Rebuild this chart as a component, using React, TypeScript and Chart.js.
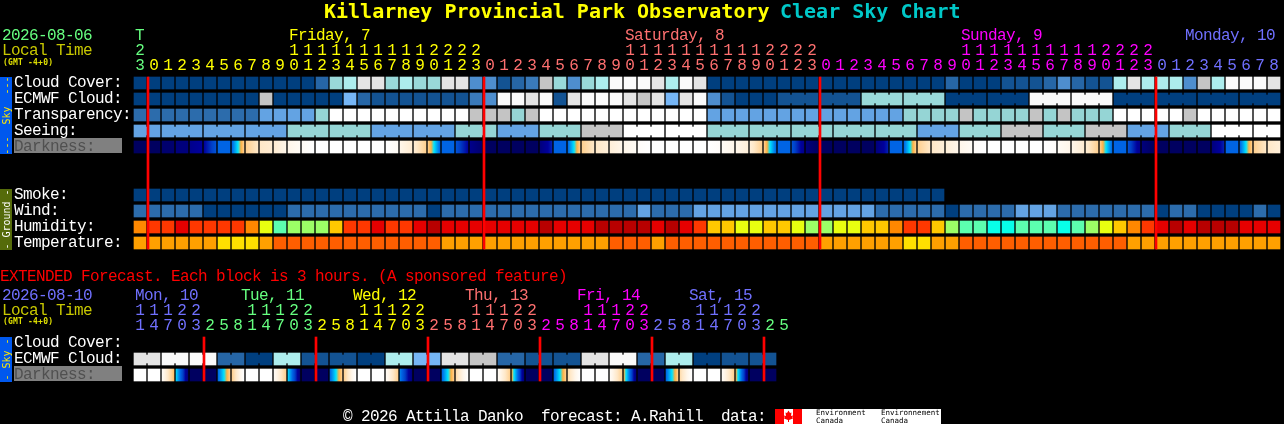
import React, { useEffect, useRef } from "react";
import { Chart, registerables } from "chart.js";

Chart.register(...registerables);

// ---- rows (in units of one 16px row pitch) ----
const ROW_CLOUD = 0, ROW_ECMWF = 1, ROW_TRANSP = 2, ROW_SEEING = 3, ROW_DARK = 4;
const ROW_SMOKE = 7, ROW_WIND = 8, ROW_HUMID = 9, ROW_TEMP = 10;
const ROW_X_CLOUD = 16.25, ROW_X_ECMWF = 17.25, ROW_X_DARK = 18.25;

// ---- palettes (value level -> colour) ----
const cloudPalette = ["#003F7F", "#135393", "#2666A6", "#3A7ABA", "#4E8ECE", "#76B6F6", "#99D9D9", "#ADEDED", "#C5C5C5", "#E4E4E4", "#FAFAFA"];
const skyPalette = ["#003F7F", "#2C6CAC", "#63A3E3", "#95D5D5", "#C4C4C4", "#FFFFFF"];
const humidityPalette = ["#08FFE8", "#5CFFAF", "#9CFF66", "#E8FF10", "#FFC800", "#FF8800", "#FF3800", "#E60000", "#B80000"];
const temperaturePalette = ["#FF5E00", "#FFA000", "#FFE000"];
const darknessRamp = ["#000048", "#000060", "#00007C", "#00009C", "#0040C8", "#0064E4", "#00A0F0", "#00E4FF", "#FFB040", "#FFD090", "#FFE8C8", "#FFF6EA", "#FFFFFF"];

// ---- hourly forecast, one value per column ----
const cloudCover = [
  0, 0, 0, 0, 0, 0, 0, 0, 0, 0,
  0, 0, 0, 2, 6, 7, 9, 9, 6, 7,
  6, 6, 9, 9, 4, 4, 1, 2, 3, 8,
  6, 4, 6, 7, 10, 10, 10, 9, 7, 10,
  9, 0, 0, 0, 0, 0, 0, 0, 0, 0,
  0, 0, 0, 0, 0, 0, 0, 0, 2, 0,
  0, 0, 1, 1, 1, 2, 4, 2, 1, 1,
  7, 9, 7, 7, 7, 4, 8, 7, 10, 10, 10, 9,
];
const ecmwfCloud = [
  0, 0, 0, 0, 0, 0, 0, 0, 0, 8,
  0, 0, 0, 0, 0, 5, 2, 1, 1, 1,
  1, 1, 1, 1, 3, 4, 10, 10, 9, 10,
  1, 9, 10, 10, 10, 9, 8, 9, 5, 9,
  10, 4, 1, 0, 0, 0, 1, 1, 1, 1,
  1, 1, 6, 6, 6, 6, 6, 6, 0, 0,
  0, 0, 0, 0, 10, 10, 10, 10, 10, 10,
  0, 0, 0, 0, 0, 0, 0, 0, 0, 0, 0, 0,
];
const transparency = [
  1, 1, 1, 1, 1, 1, 1, 1, 1, 2,
  2, 2, 2, 3, 5, 5, 5, 5, 5, 5,
  5, 5, 5, 5, 4, 4, 4, 3, 4, 5,
  5, 5, 5, 5, 5, 5, 5, 5, 5, 5,
  5, 2, 2, 2, 2, 2, 2, 2, 2, 2,
  2, 2, 2, 2, 2, 3, 3, 3, 3, 4,
  3, 3, 3, 3, 4, 3, 4, 3, 3, 3,
  5, 5, 5, 5, 5, 4, 5, 5, 5, 5, 5, 5,
];
const seeing = [
  2, 2, 2, 2, 2, 2, 2, 2, 2, 2,
  2, 3, 3, 3, 3, 3, 3, 2, 2, 2,
  2, 2, 2, 3, 3, 3, 2, 2, 2, 3,
  3, 3, 4, 4, 4, 5, 5, 5, 5, 5,
  5, 3, 3, 3, 3, 3, 3, 3, 3, 3,
  3, 3, 3, 3, 3, 3, 2, 2, 2, 3,
  3, 3, 4, 4, 4, 3, 3, 3, 4, 4,
  4, 2, 2, 2, 3, 3, 3, 5, 5, 5, 5, 5,
];
const darknessStart = [
  1, 1, 1.5, 2, 2.5, 3, 5, 5, 9, 10,
  10.3, 11, 11.5, 12, 12, 12, 12, 12, 12, 11,
  10.3, 9, 5, 4.5, 2.5, 1, 1, 1, 1, 2,
  5, 5, 9, 10, 10.5, 11, 11.7, 12, 12, 12,
  12, 12, 11.5, 11, 10.5, 9, 5, 4.5, 2, 1,
  1, 1, 1, 2, 5, 5, 9, 10, 10.5, 11,
  11.7, 12, 12, 12, 12, 12, 11.5, 11, 10.3, 9,
  5, 4.5, 2, 1, 1, 1, 1, 2, 5, 5, 9, 10,
];
const darknessEnd = [
  1, 1, 1.5, 2, 3, 4.5, 5, 9, 10, 10.3,
  11, 11.5, 12, 12, 12, 12, 12, 12, 11.5, 10.3,
  9, 5, 5, 3, 1.5, 1, 1, 1, 1, 3.5,
  5, 9, 10, 10.5, 11, 11.5, 12, 12, 12, 12,
  12, 11.7, 11, 10.5, 9, 5, 5, 2.5, 1, 1,
  1, 1, 1, 3.5, 5, 9, 10, 10.5, 11, 11.5,
  12, 12, 12, 12, 12, 11.7, 11, 10.3, 9, 5,
  5, 2.5, 1, 1, 1, 1, 1, 3.5, 5, 9, 10, 10.5,
];
const smoke = [
  0, 0, 0, 0, 0, 0, 0, 0, 0, 0,
  0, 0, 0, 0, 0, 0, 0, 0, 0, 0,
  0, 0, 0, 0, 0, 0, 0, 0, 0, 0,
  0, 0, 0, 0, 0, 0, 0, 0, 0, 0,
  0, 0, 0, 0, 0, 0, 0, 0, 0, 0,
  0, 0, 0, 0, 0, 0, 0, 0,
];
const wind = [
  1, 1, 1, 1, 1, 0, 0, 0, 0, 0,
  0, 1, 1, 1, 1, 1, 1, 1, 1, 1,
  1, 0, 1, 1, 1, 1, 1, 1, 1, 1,
  1, 1, 1, 1, 1, 1, 2, 1, 1, 1,
  2, 2, 2, 2, 2, 2, 2, 2, 2, 2,
  2, 2, 2, 1, 1, 1, 1, 1, 0, 1,
  1, 1, 1, 2, 2, 2, 1, 1, 1, 1,
  1, 1, 1, 0, 1, 1, 0, 0, 0, 0, 1, 0,
];
const humidity = [
  5, 6, 6, 7, 6, 6, 6, 6, 5, 3,
  1, 2, 2, 2, 4, 6, 6, 7, 6, 6,
  7, 8, 7, 7, 7, 7, 7, 7, 7, 8,
  7, 7, 7, 8, 8, 8, 8, 7, 8, 7,
  6, 4, 4, 3, 3, 4, 4, 3, 2, 2,
  3, 3, 4, 4, 5, 6, 6, 4, 2, 1,
  1, 0, 0, 1, 1, 1, 0, 1, 2, 3,
  4, 5, 6, 7, 8, 7, 8, 8, 8, 7, 7, 7,
];
const temperature = [
  1, 1, 1, 1, 1, 1, 2, 2, 2, 1,
  0, 0, 0, 0, 0, 0, 0, 0, 0, 0,
  0, 0, 1, 1, 1, 1, 1, 1, 1, 1,
  1, 1, 1, 1, 0, 0, 0, 1, 0, 0,
  0, 0, 0, 0, 0, 0, 0, 0, 0, 1,
  1, 1, 1, 1, 1, 2, 2, 1, 1, 0,
  0, 0, 0, 0, 0, 0, 0, 0, 0, 0,
  0, 1, 1, 1, 1, 1, 1, 1, 1, 1, 1, 1,
];

// ---- extended forecast, one value per 3-hour column ----
const extEcmwf = [
  9, 9, 10, 10, 10, 10, 2, 2, 0, 0, 7, 7, 1, 1, 1, 1, 0, 0, 7, 7, 5, 5, 9,
  9, 8, 8, 2, 2, 1, 1, 1, 1, 9, 9, 10, 10, 2, 2, 7, 7, 0, 0, 1, 1, 1, 1,
];
const extDarkStart = [
  12, 12, 11.5, 6.8, 1, 1, 5, 9, 12, 12, 11.5, 6.8, 1, 1, 5, 9,
  12, 12, 11.5, 5.5, 1, 1, 5, 9.5, 12, 12, 11.5, 8, 1, 1, 5, 9.5,
  12, 12, 11.5, 8, 1, 1, 5, 9.5, 12, 12, 11.5, 8, 1, 1,
];
const extDarkEnd = [
  12, 12, 8.5, 2, 1, 1, 9, 12, 12, 12, 9, 2, 1, 1, 9, 12,
  12, 12, 9, 2, 1, 1, 9, 12, 12, 12, 9, 2, 1, 1, 9, 12,
  12, 12, 9, 2, 1, 1, 9, 12, 12, 12, 9, 2, 1, 1,
];

// ---- red midnight rules (column positions) ----
const midnightCols = [0.571, 24.571, 48.571, 72.571];
const extMidnightCols = [4.571, 12.571, 20.571, 28.571, 36.571, 44.571];

// ---- tick labels ----
const C_THU = "#66FF80", C_FRI = "#FFFF00", C_SAT = "#FF7070", C_SUN = "#FF00FF", C_MON = "#7070FF";
const C_TUE = "#66FF80", C_WED = "#FFFF00";
const hourDigits = "3" + "012345678901234567890123" + "012345678901234567890123" + "012345678901234567890123" + "012345678";
const hourTens = "2          " + "11111111112222" + "          " + "11111111112222" + "          " + "11111111112222";
const extHourDigits = "14703258147032581470325814703258147032581470325";
const extHourTens = "11122   11122   11122   11122   11122   11122";
const dayLabels: [string, number, string][] = [
  ["T", 0, C_THU], ["Friday, 7", 11, C_FRI], ["Saturday, 8", 35, C_SAT], ["Sunday, 9", 59, C_SUN], ["Monday, 10", 75, C_MON],
];
const extDayLabels: [string, number, string][] = [
  ["Mon, 10", 0.07, C_MON], ["Tue, 11", 7.64, C_TUE], ["Wed, 12", 15.64, C_WED], ["Thu, 13", 23.64, C_SAT], ["Fri, 14", 31.64, C_SUN], ["Sat, 15", 39.64, C_MON],
];
const hourColor = (col: number) => (col < 1 ? C_THU : col < 25 ? C_FRI : col < 49 ? C_SAT : col < 73 ? C_SUN : C_MON);
const extHourColors = [C_MON, C_TUE, C_WED, C_SAT, C_SUN, C_MON, C_TUE];
const extHourColor = (col: number) => extHourColors[Math.floor((col + 3) / 8)];
const skyRows: [string, number][] = [["Cloud Cover:", ROW_CLOUD], ["ECMWF Cloud:", ROW_ECMWF], ["Transparency:", ROW_TRANSP], ["Seeing:", ROW_SEEING]];
const groundRows: [string, number][] = [["Smoke:", ROW_SMOKE], ["Wind:", ROW_WIND], ["Humidity:", ROW_HUMID], ["Temperature:", ROW_TEMP]];
const extRows: [string, number][] = [["Cloud Cover:", ROW_X_CLOUD], ["ECMWF Cloud:", ROW_X_ECMWF]];

const CELL_H = 0.75; // 12px of the 16px pitch
const NOTCH_INSET = 0.125;

function cellDataset(row: number, values: number[], palette: string[]) {
  return {
    type: "bar" as const,
    data: values.map((_, i) => ({ x: i, y: [row, row + CELL_H] })),
    backgroundColor: values.map((v) => palette[v]),
    barThickness: 12,
    order: 2,
  };
}

function linkDataset(row: number, values: number[], palette: string[], joined: (i: number) => boolean) {
  const cols = values.map((_, i) => i).filter((i) => i < values.length - 1 && joined(i));
  return {
    type: "bar" as const,
    data: cols.map((i) => ({ x: i + 0.5, y: [row + NOTCH_INSET, row + CELL_H - NOTCH_INSET] })),
    backgroundColor: cols.map((i) => palette[values[i]]),
    barThickness: 3,
    order: 2,
  };
}

function rampStops(g: CanvasGradient, from: number, to: number) {
  const n = darknessRamp.length - 1;
  const lo = Math.min(from, to), hi = Math.max(from, to);
  const at = (lvl: number) => {
    const i = Math.min(n - 1, Math.floor(lvl));
    const f = lvl - i;
    const a = darknessRamp[i], b = darknessRamp[i + 1];
    const mix = (s: number) => Math.round(parseInt(a.slice(s, s + 2), 16) * (1 - f) + parseInt(b.slice(s, s + 2), 16) * f);
    return `rgb(${mix(1)},${mix(3)},${mix(5)})`;
  };
  const span = to - from;
  g.addColorStop(0, at(from));
  for (let l = Math.ceil(lo); l <= Math.floor(hi); l++) {
    if (span !== 0) g.addColorStop((l - from) / span, at(l));
  }
  g.addColorStop(1, at(to));
}

function darkDataset(row: number, starts: number[], ends: number[]) {
  return {
    type: "bar" as const,
    data: starts.map((_, i) => ({ x: i, y: [row, row + CELL_H] })),
    backgroundColor: (ctx: any) => {
      const i = ctx.dataIndex;
      if (i === undefined) return "#000048";
      const cx = ctx.chart.scales.x.getPixelForValue(i);
      if (!Number.isFinite(cx)) return "#000048"; // scale not laid out yet
      const g = ctx.chart.ctx.createLinearGradient(cx - 6, 0, cx + 6, 0);
      rampStops(g, starts[i], ends[i]);
      return g;
    },
    barThickness: 12,
    order: 2,
  };
}

function ruleDataset(cols: number[], top: number, bottom: number) {
  return {
    type: "bar" as const,
    data: cols.map((c) => ({ x: c, y: [top, bottom] })),
    backgroundColor: "#FF0000",
    barThickness: 2,
    order: 0,
  };
}

const BODY_FONT = '16px "Liberation Mono"';
const BODY_SPACING = "-0.6px";

const frame = {
  id: "frame",
  beforeDatasetsDraw(chart: any) {
    const c: CanvasRenderingContext2D = chart.ctx;
    const y = chart.scales.y;
    c.save();
    c.fillStyle = "#000000";
    c.fillRect(0, 0, chart.width, chart.height);
    // side tabs
    const tab = (from: number, to: number, color: string) => {
      c.fillStyle = color;
      c.fillRect(0, y.getPixelForValue(from), 12, y.getPixelForValue(to) - y.getPixelForValue(from));
    };
    tab(ROW_CLOUD, ROW_DARK + 0.8125, "#0058EE");
    tab(ROW_SMOKE, ROW_TEMP + 0.8125, "#556B0A");
    tab(ROW_X_CLOUD, ROW_X_DARK + 0.8125, "#0058EE");
    // darkness label plates
    c.fillStyle = "#808080";
    c.fillRect(14, y.getPixelForValue(ROW_DARK) - 3, 108, 15);
    c.fillRect(14, y.getPixelForValue(ROW_X_DARK) - 3, 108, 15);
    // data-source logo
    c.fillStyle = "#FFFFFF";
    c.fillRect(775, 409, 166, 15);
    c.fillStyle = "#FF0000";
    c.fillRect(775, 409, 9, 15);
    c.fillRect(793, 409, 9, 15);
    c.beginPath();
    const leaf = [[788.5, 410.5], [790, 413], [791.5, 412.5], [791, 416], [793, 415.5], [792.5, 417.5], [793, 418.5], [789, 420], [789, 422], [788, 422], [788, 420], [784, 418.5], [784.5, 417.5], [784, 415.5], [786, 416], [785.5, 412.5], [787, 413]];
    leaf.forEach(([a, b], i) => (i ? c.lineTo(a, b) : c.moveTo(a, b)));
    c.closePath();
    c.fill();
    c.restore();
  },
  afterDatasetsDraw(chart: any) {
    const c: CanvasRenderingContext2D = chart.ctx;
    const x = chart.scales.x;
    const y = chart.scales.y;
    c.save();
    c.textBaseline = "alphabetic";
    const put = (s: string, px: number, py: number, color: string, font = BODY_FONT, spacing = BODY_SPACING, align: CanvasTextAlign = "left") => {
      c.font = font;
      (c as any).letterSpacing = spacing;
      c.textAlign = align;
      c.fillStyle = color;
      c.fillText(s, px, py);
    };
    const colLeft = (col: number) => x.getPixelForValue(col) - 6;
    // title
    const titleFont = 'bold 20px "DejaVu Sans Mono"';
    put("Killarney Provincial Park Observatory", 324, 18, "#FFFF00", titleFont, "0px");
    put("Clear Sky Chart", 780, 18, "#00C8C8", titleFont, "0px");
    // main header
    put("2026-08-06", 2, 40, C_THU);
    put("Local Time", 2, 55, "#C8C800");
    const gmtFont = 'bold 8px "DejaVu Sans Mono"';
    put("(GMT -4+0)", 3, 65, "#E0E000", gmtFont, "0.2px");
    dayLabels.forEach(([s, col, color]) => put(s, colLeft(col) + 1, 40, color));
    [...hourTens].forEach((d, col) => {
      if (d !== " ") put(d, x.getPixelForValue(col), 55, hourColor(col), BODY_FONT, "0px", "center");
    });
    [...hourDigits].forEach((d, col) => put(d, x.getPixelForValue(col), 70, hourColor(col), BODY_FONT, "0px", "center"));
    // row labels
    const rowBase = (row: number) => y.getPixelForValue(row) + 10;
    [...skyRows, ...groundRows, ...extRows].forEach(([s, row]) => put(s, 14, rowBase(row), "#FFFFFF"));
    put("Darkness:", 14, rowBase(ROW_DARK), "#505050");
    put("Darkness:", 14, rowBase(ROW_X_DARK), "#505050");
    // extended header
    put("EXTENDED Forecast. Each block is 3 hours. (A sponsored feature)", 0, 281, "#FF0000");
    put("2026-08-10", 2, 300, C_MON);
    put("Local Time", 2, 315, "#C8C800");
    put("(GMT -4+0)", 3, 324, "#E0E000", gmtFont, "0.2px");
    extDayLabels.forEach(([s, col, color]) => put(s, colLeft(col), 300, color));
    [...extHourTens].forEach((d, col) => {
      if (d !== " ") put(d, x.getPixelForValue(col), 315, extHourColor(col), BODY_FONT, "0px", "center");
    });
    [...extHourDigits].forEach((d, col) => put(d, x.getPixelForValue(col), 330, extHourColor(col), BODY_FONT, "0px", "center"));
    // footer
    put("\u00A9 2026 Attilla Danko  forecast: A.Rahill  data:", 343, 421, "#FFFFFF");
    const logoFont = '7.5px "DejaVu Sans Mono"';
    put("Environment", 816, 415, "#000000", logoFont, "0px");
    put("Canada", 816, 423, "#000000", logoFont, "0px");
    put("Environnement", 881, 415, "#000000", logoFont, "0px");
    put("Canada", 881, 423, "#000000", logoFont, "0px");
    // vertical tab labels
    const vert = (s: string, from: number, to: number, color: string) => {
      c.save();
      c.translate(9.5, (y.getPixelForValue(from) + y.getPixelForValue(to)) / 2);
      c.rotate(-Math.PI / 2);
      c.font = '10px "DejaVu Sans Mono"';
      (c as any).letterSpacing = "0px";
      c.textAlign = "center";
      c.fillStyle = color;
      c.fillText(s, 0, 0);
      c.restore();
    };
    vert("---  Sky  ---", ROW_CLOUD, ROW_DARK + 0.8125, "#FFE800");
    vert("- Ground -", ROW_SMOKE, ROW_TEMP + 0.8125, "#FFFFFF");
    vert("- Sky -", ROW_X_CLOUD, ROW_X_DARK + 0.8125, "#FFE800");
    c.restore();
  },
};

export default function App() {
  const ref = useRef<HTMLCanvasElement>(null);
  useEffect(() => {
    document.body.style.margin = "0";
    document.body.style.background = "#000";
    const datasets: any[] = [
      ruleDataset(midnightCols, ROW_CLOUD, ROW_TEMP + CELL_H),
      ruleDataset(extMidnightCols, ROW_X_CLOUD, ROW_X_DARK + CELL_H),
      cellDataset(ROW_CLOUD, cloudCover, cloudPalette),
      cellDataset(ROW_ECMWF, ecmwfCloud, cloudPalette),
      linkDataset(ROW_ECMWF, ecmwfCloud, cloudPalette, (i) => i >= 46 && (i - 46) % 3 !== 2),
      cellDataset(ROW_TRANSP, transparency, skyPalette),
      cellDataset(ROW_SEEING, seeing, skyPalette),
      linkDataset(ROW_SEEING, seeing, skyPalette, (i) => (i + 1) % 3 !== 2),
      darkDataset(ROW_DARK, darknessStart, darknessEnd),
      cellDataset(ROW_SMOKE, smoke, skyPalette),
      cellDataset(ROW_WIND, wind, skyPalette),
      cellDataset(ROW_HUMID, humidity, humidityPalette),
      cellDataset(ROW_TEMP, temperature, temperaturePalette),
      cellDataset(ROW_X_ECMWF, extEcmwf, cloudPalette),
      linkDataset(ROW_X_ECMWF, extEcmwf, cloudPalette, (i) => i % 2 === 0),
      darkDataset(ROW_X_DARK, extDarkStart, extDarkEnd),
    ];
    const chart = new Chart(ref.current as HTMLCanvasElement, {
      type: "bar",
      data: { datasets },
      plugins: [frame],
      options: {
        animation: false,
        responsive: false,
        devicePixelRatio: 1,
        events: [],
        grouped: false,
        borderWidth: 0,
        layout: { padding: { left: 133, right: 3, top: 0, bottom: 0 } },
        plugins: { legend: { display: false }, tooltip: { enabled: false } },
        scales: {
          x: { type: "linear", display: false, offset: false, min: -0.5, max: 81.5 },
          y: { type: "linear", display: false, offset: false, reverse: true, min: -4.8125, max: 21.6875 },
        },
      } as any,
    });
    return () => chart.destroy();
  }, []);
  return <canvas ref={ref} width={1284} height={424} style={{ display: "block", background: "#000" }} />;
}
